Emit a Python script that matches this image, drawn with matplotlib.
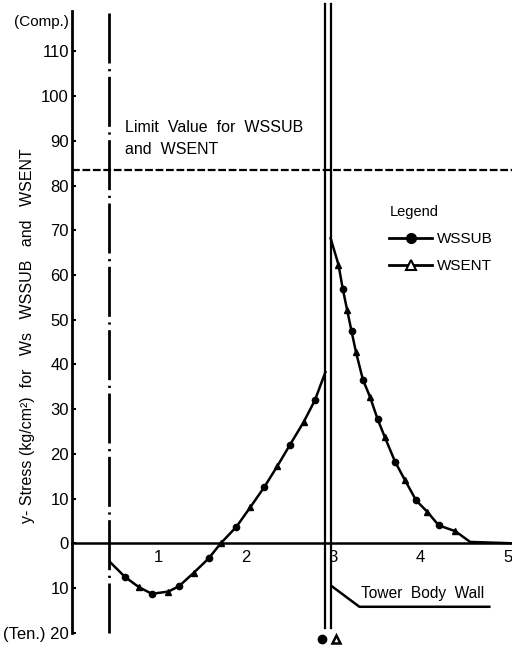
import numpy as np
import matplotlib
matplotlib.use("Agg")
from matplotlib import pyplot as plt
from matplotlib.lines import Line2D

# stress distribution along the section, inner side of the wall
inner_x = [0.44, 0.61, 0.77, 0.92, 1.11, 1.23, 1.40, 1.57, 1.71, 1.89, 2.05,
           2.21, 2.36, 2.50, 2.66, 2.79, 2.91]
inner_y = [-4.2, -7.5, -9.8, -11.3, -10.8, -9.6, -6.6, -3.4, 0.0, 3.7, 8.1,
           12.6, 17.3, 21.9, 27.1, 32.0, 38.3]
inner_mark = ['', 'o', '^', 'o', '^', 'o', '^', 'o', '^', 'o', '^',
              'o', '^', 'o', '^', 'o', '']

# outer side of the wall
outer_x = [2.97, 3.06, 3.11, 3.16, 3.21, 3.26, 3.34, 3.42, 3.51, 3.59, 3.71,
           3.82, 3.95, 4.08, 4.21, 4.40, 4.57, 5.05]
outer_y = [68.2, 62.3, 56.8, 52.1, 47.4, 42.8, 36.6, 32.8, 27.7, 23.8, 18.2,
           14.2, 9.6, 7.0, 4.0, 2.7, 0.3, 0.0]
outer_mark = ['', '^', 'o', '^', 'o', '^', 'o', '^', 'o', '^', 'o',
              '^', 'o', '^', 'o', '^', '', '']

limit_value = 83.5
center_line_x = 0.43
wall_x = [2.91, 2.97]

x_ticks = [1, 2, 3, 4, 5]
y_ticks = [-20, -10, 0, 10, 20, 30, 40, 50, 60, 70, 80, 90, 100, 110]
y_tick_labels = ['(Ten.) 20', '10', '0', '10', '20', '30', '40', '50', '60',
                 '70', '80', '90', '100', '110']

plt.rcParams['font.family'] = ['Liberation Sans', 'DejaVu Sans']

fig = plt.figure(figsize=(5.12, 6.45), dpi=100)
ax = fig.add_axes([0.14, 0.0, 0.86, 1.0])
ax.set_xlim(0, 5.05)
ax.set_ylim(-22.75, 121.5)

for s in ['top', 'right']:
    ax.spines[s].set_visible(False)
ax.spines['left'].set_bounds(-20, 119)
ax.spines['left'].set_linewidth(2)
ax.spines['bottom'].set_position(('data', 0))
ax.spines['bottom'].set_linewidth(1.8)

ax.set_xticks(x_ticks)
ax.set_xticklabels([str(t) for t in x_ticks], fontsize=12)
ax.tick_params(axis='x', length=0, pad=5)
ax.set_yticks(y_ticks)
ax.set_yticklabels(y_tick_labels, fontsize=12)
ax.tick_params(axis='y', direction='in', length=3, width=1.5, pad=2)
ax.text(-0.03, 116.6, '(Comp.)', ha='right', va='center', fontsize=11,
        clip_on=False)

ax.set_ylabel('y- Stress (kg/cm\u00b2)  for   Ws   WSSUB   and   WSENT',
              fontsize=11.5)
ax.yaxis.set_label_coords(-0.083, 0.479)

# limit line and reference lines
ax.axhline(limit_value, color='black', lw=1.6, ls=(0, (3.5, 1.2)))
ax.plot([center_line_x, center_line_x], [-20, 119.7], color='black', lw=2,
        ls=(0, (18, 2, 0.8, 2)))
for wx in wall_x:
    ax.plot([wx, wx], [-19, 120.6], color='black', lw=1.6)

ax.text(0.61, 92.9, 'Limit  Value  for  WSSUB', fontsize=11.5, va='center')
ax.text(0.61, 88.0, 'and  WSENT', fontsize=11.5, va='center')

# stress curves with alternating markers
for xs, ys, ms in [(inner_x, inner_y, inner_mark), (outer_x, outer_y, outer_mark)]:
    ax.plot(xs, ys, color='black', lw=1.8)
    xs = np.array(xs)
    ys = np.array(ys)
    ms = np.array(ms)
    ax.plot(xs[ms == 'o'], ys[ms == 'o'], 'o', color='black', ms=4.5)
    ax.plot(xs[ms == '^'], ys[ms == '^'], '^', color='black', ms=5)

# tower body wall label
ax.plot([2.99, 3.30, 4.79], [-9.7, -14.2, -14.2], color='black', lw=1.8)
ax.text(3.32, -11.3, 'Tower  Body  Wall', fontsize=11.2, va='center')
ax.plot(2.87, -21.5, 'o', color='black', ms=6, clip_on=False)
ax.plot(3.03, -21.4, '^', color='black', mfc='white', mew=1.8, ms=5.5,
        clip_on=False)

handles = [Line2D([], [], color='black', lw=2, marker='o', ms=7),
           Line2D([], [], color='black', lw=2, marker='^', ms=6.5, mfc='white',
                  mew=1.5)]
leg = ax.legend(handles, ['WSSUB', 'WSENT'], title='Legend', loc='upper left',
                bbox_to_anchor=(0.69, 0.703), frameon=False, fontsize=11,
                title_fontsize=10.5, handlelength=2.8, handletextpad=0.3,
                labelspacing=0.85, alignment='left')

fig.savefig('out.png', dpi=100)
